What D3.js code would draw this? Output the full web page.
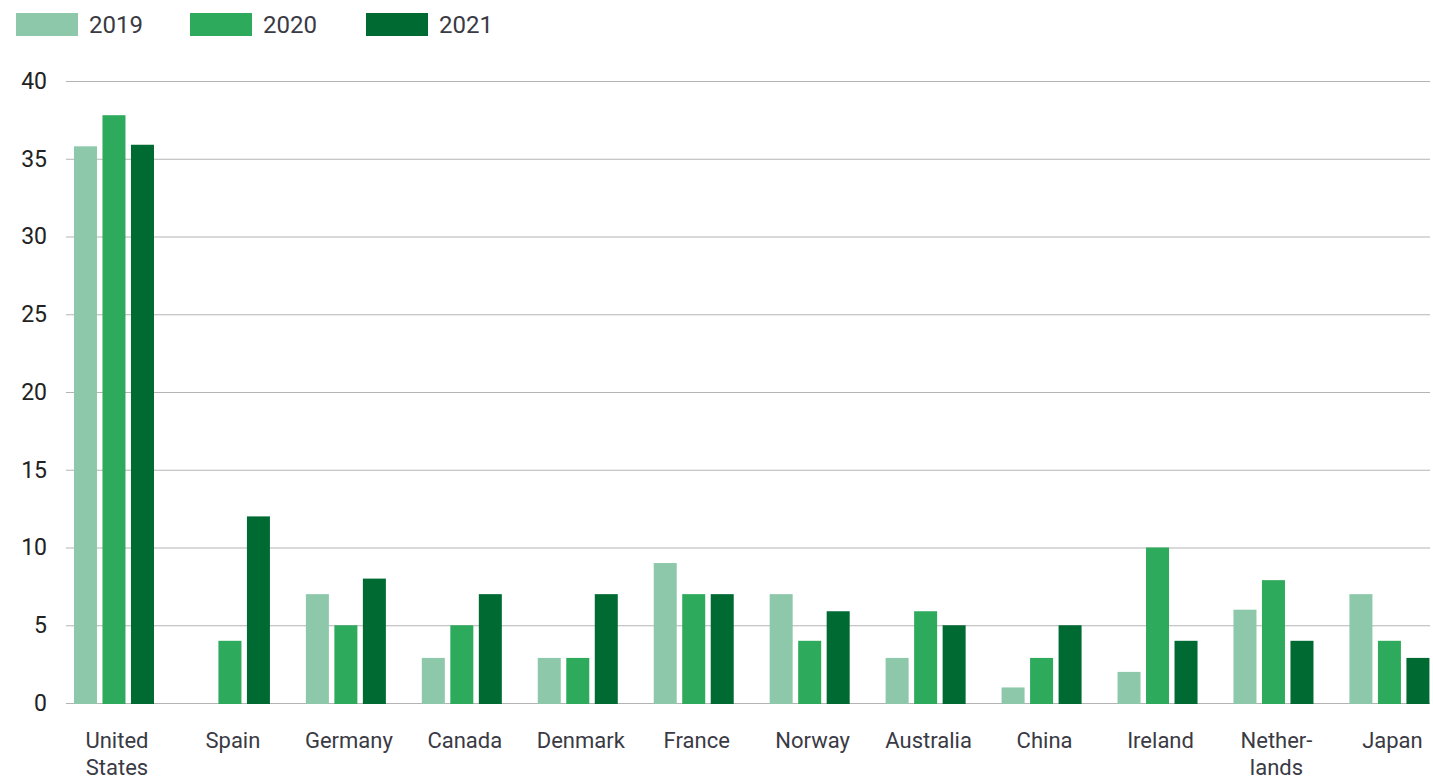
<!DOCTYPE html>
<html><head><meta charset="utf-8">
<script src="https://cdn.jsdelivr.net/npm/d3@7"></script>
<style>body{margin:0;background:#fff}svg{display:block}</style>
</head><body><svg id="c" width="1433" height="781"></svg>
<script>
const categories = [["United","States"],["Spain"],["Germany"],["Canada"],["Denmark"],["France"],["Norway"],["Australia"],["China"],["Ireland"],["Nether-","lands"],["Japan"]];
const seriesNames = ["2019","2020","2021"];
const v2019 = [35.8,0,7,2.9,2.9,9,7,2.9,1,2,6,7];
const v2020 = [37.8,4,5,5,2.9,7,4,5.9,2.9,10,7.9,4];
const v2021 = [35.9,12,8,7,7,7,5.9,5,5,4,4,2.9];
const yTicks = [0,5,10,15,20,25,30,35,40];
const colors = ["#8dc8aa","#2eaa5c","#006a33"];
const series = [v2019, v2020, v2021];

const svg = d3.select("#c");
const font = "Roboto, 'Noto Sans', sans-serif";
const y = d3.scaleLinear().domain([0,40]).range([703,81]);
const keys = categories.map(c => c.join(" "));
const x0 = d3.scaleBand().domain(keys).range([56,1447.4]).paddingInner(0.31).paddingOuter(0.155);
const x1 = d3.scaleBand().domain(seriesNames).range([0, x0.bandwidth()]).paddingInner(0.193).paddingOuter(0);

// grid
const yAxis = d3.axisLeft(y).tickValues(yTicks).tickSize(-(1430-66)).tickPadding(20);
const g = svg.append("g").attr("transform","translate(66,0)").call(yAxis);
g.select(".domain").remove();
g.selectAll(".tick line").attr("stroke","#b4b4b4").attr("stroke-width",1.2);
g.selectAll(".tick text").attr("font-family",font).attr("font-size",23).attr("fill","#222").attr("x",-19);

// bars
const groups = svg.append("g").selectAll("g").data(keys).join("g")
  .attr("transform", d => `translate(${x0(d)},0)`);
groups.selectAll("rect").data((d,i) => series.map((s,j) => ({k:seriesNames[j], v:s[i], c:colors[j]})).filter(e=>e.v>0))
  .join("rect")
  .attr("x", d => x1(d.k)).attr("width", x1.bandwidth())
  .attr("y", d => y(d.v)).attr("height", d => y(0) - y(d.v) + 1)
  .attr("fill", d => d.c);

// x labels
const xl = svg.append("g");
categories.forEach((c,i) => {
  const cx = x0(keys[i]) + x0.bandwidth()/2 + 3;
  const t = xl.append("text").attr("x", cx).attr("y", 748)
    .attr("text-anchor","middle").attr("font-family",font).attr("font-size",22).attr("fill","#3a3a44");
  c.forEach((line,j) => t.append("tspan").attr("x", cx).attr("dy", j===0?0:27).text(line));
});

// legend
const legX = [16,190,366];
const leg = svg.append("g");
seriesNames.forEach((s,i) => {
  leg.append("rect").attr("x",legX[i]).attr("y",13).attr("width",62).attr("height",23).attr("fill",colors[i]);
  leg.append("text").attr("x",legX[i]+73).attr("y",33).attr("font-family",font).attr("font-size",24).attr("fill","#3a3a44").text(s);
});
</script></body></html>
